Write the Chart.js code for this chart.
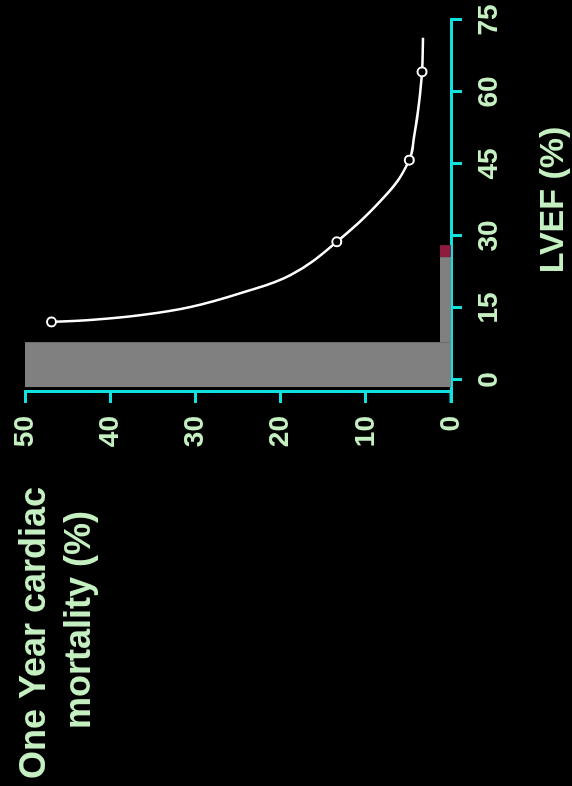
<!DOCTYPE html>
<html lang="en">
<head>
<meta charset="UTF-8">
<title>LVEF vs one year cardiac mortality</title>
<script src="https://cdn.jsdelivr.net/npm/chart.js"></script>
<style>
  html, body { margin: 0; padding: 0; background: #000; overflow: hidden; }
  body { width: 572px; height: 786px; position: relative; }
  /* chart is drawn upright, then turned a quarter to the left like the slide */
  #wrap { position: absolute; left: 0; top: 0; width: 786px; height: 572px;
          transform-origin: 0 0; transform: translate(0, 786px) rotate(-90deg); }
</style>
</head>
<body>
<div id="wrap"><canvas id="chart" width="786" height="572"></canvas></div>
<script>
// curve (LVEF %, one year cardiac mortality %)
const curveLvef = [12.1, 12.5, 13.5, 15.2, 18.1, 21.9, 28.8, 39.0, 45.8, 50.6, 57.7, 64.2, 71.3];
const curveMort = [46.9, 42.4, 36.5, 30.6, 24.7, 18.8, 13.4, 7.4, 4.9, 4.35, 3.75, 3.4, 3.3];

// the four open circles
const pointLvef = [12.1, 28.8, 45.8, 64.2];
const pointMort = [46.9, 13.4, 4.9, 3.4];

// shaded blocks along the LVEF axis
const blockFrom = [-1.5, 7.9, 25.6];
const blockTo = [7.9, 25.6, 28.1];
const blockMort = [50, 1.3, 1.3];
const blockColors = ['#808080', '#808080', '#8e1b3e'];

const lvefTicks = [0, 15, 30, 45, 60, 75];
const mortTicks = [0, 10, 20, 30, 40, 50];

const cyan = '#10e2e2';
const green = '#c4efc0';
const fontFam = '"Liberation Sans", Arial, sans-serif';

const blockSets = blockFrom.map((f, i) => ({
    data: [{ x: f, y: blockMort[i] }, { x: blockTo[i], y: blockMort[i] }],
    borderWidth: 0,
    pointRadius: 0,
    backgroundColor: blockColors[i],
    fill: 'origin'
}));

// titles and the little axis overhang
const extras = {
    id: 'extras',
    afterDraw(chart) {
        const ctx = chart.ctx;
        const a = chart.chartArea;
        ctx.save();
        ctx.strokeStyle = cyan;
        ctx.lineWidth = 3;
        ctx.beginPath();
        ctx.moveTo(a.left - 11, a.bottom);
        ctx.lineTo(a.left, a.bottom);
        ctx.stroke();

        ctx.fillStyle = green;
        ctx.textAlign = 'center';
        ctx.textBaseline = 'alphabetic';
        ctx.font = 'bold 36px ' + fontFam;
        ctx.fillText('One Year cardiac', 153, 45);
        ctx.fillText('mortality (%)', 166, 90);
        ctx.font = 'bold 34px ' + fontFam;
        ctx.fillText('LVEF (%)', 586, 563);
        ctx.restore();
    }
};

// keep label overhang from pushing the plot area around
function noPad(s) {
    s.paddingTop = 0; s.paddingBottom = 0; s.paddingLeft = 0; s.paddingRight = 0;
}

new Chart(document.getElementById('chart'), {
    type: 'line',
    data: {
        datasets: [
            {
                data: pointLvef.map((x, i) => ({ x: x, y: pointMort[i] })),
                showLine: false,
                pointRadius: 4.5,
                pointBorderWidth: 2,
                pointBackgroundColor: '#000',
                pointBorderColor: '#fff'
            },
            {
                data: curveLvef.map((x, i) => ({ x: x, y: curveMort[i] })),
                borderColor: '#fff',
                borderWidth: 2.5,
                pointRadius: 0,
                tension: 0.4
            },
            ...blockSets
        ]
    },
    plugins: [extras],
    options: {
        responsive: false,
        animation: false,
        layout: { padding: { top: 25, right: 20, left: 0, bottom: 0 } },
        plugins: { legend: { display: false }, tooltip: { enabled: false } },
        scales: {
            x: {
                type: 'linear',
                min: -2.5,
                max: 75,
                afterBuildTicks: s => { s.ticks = lvefTicks.map(v => ({ value: v })); },
                afterFit: s => { s.height = 121; noPad(s); },
                ticks: { color: green, font: { family: fontFam, size: 28, weight: 'bold' }, padding: 10, maxRotation: 0 },
                grid: { drawOnChartArea: false, drawTicks: true, tickLength: 11, color: cyan, lineWidth: 3 },
                border: { display: true, color: cyan, width: 3 }
            },
            y: {
                type: 'linear',
                min: 0,
                max: 50,
                afterBuildTicks: s => { s.ticks = mortTicks.map(v => ({ value: v })); },
                afterFit: s => { s.width = 394; noPad(s); },
                ticks: { color: green, font: { family: fontFam, size: 28, weight: 'bold' }, padding: 13 },
                grid: { drawOnChartArea: false, drawTicks: true, tickLength: 11, color: cyan, lineWidth: 3 },
                border: { display: true, color: cyan, width: 3 }
            }
        }
    }
});
</script>
</body>
</html>
